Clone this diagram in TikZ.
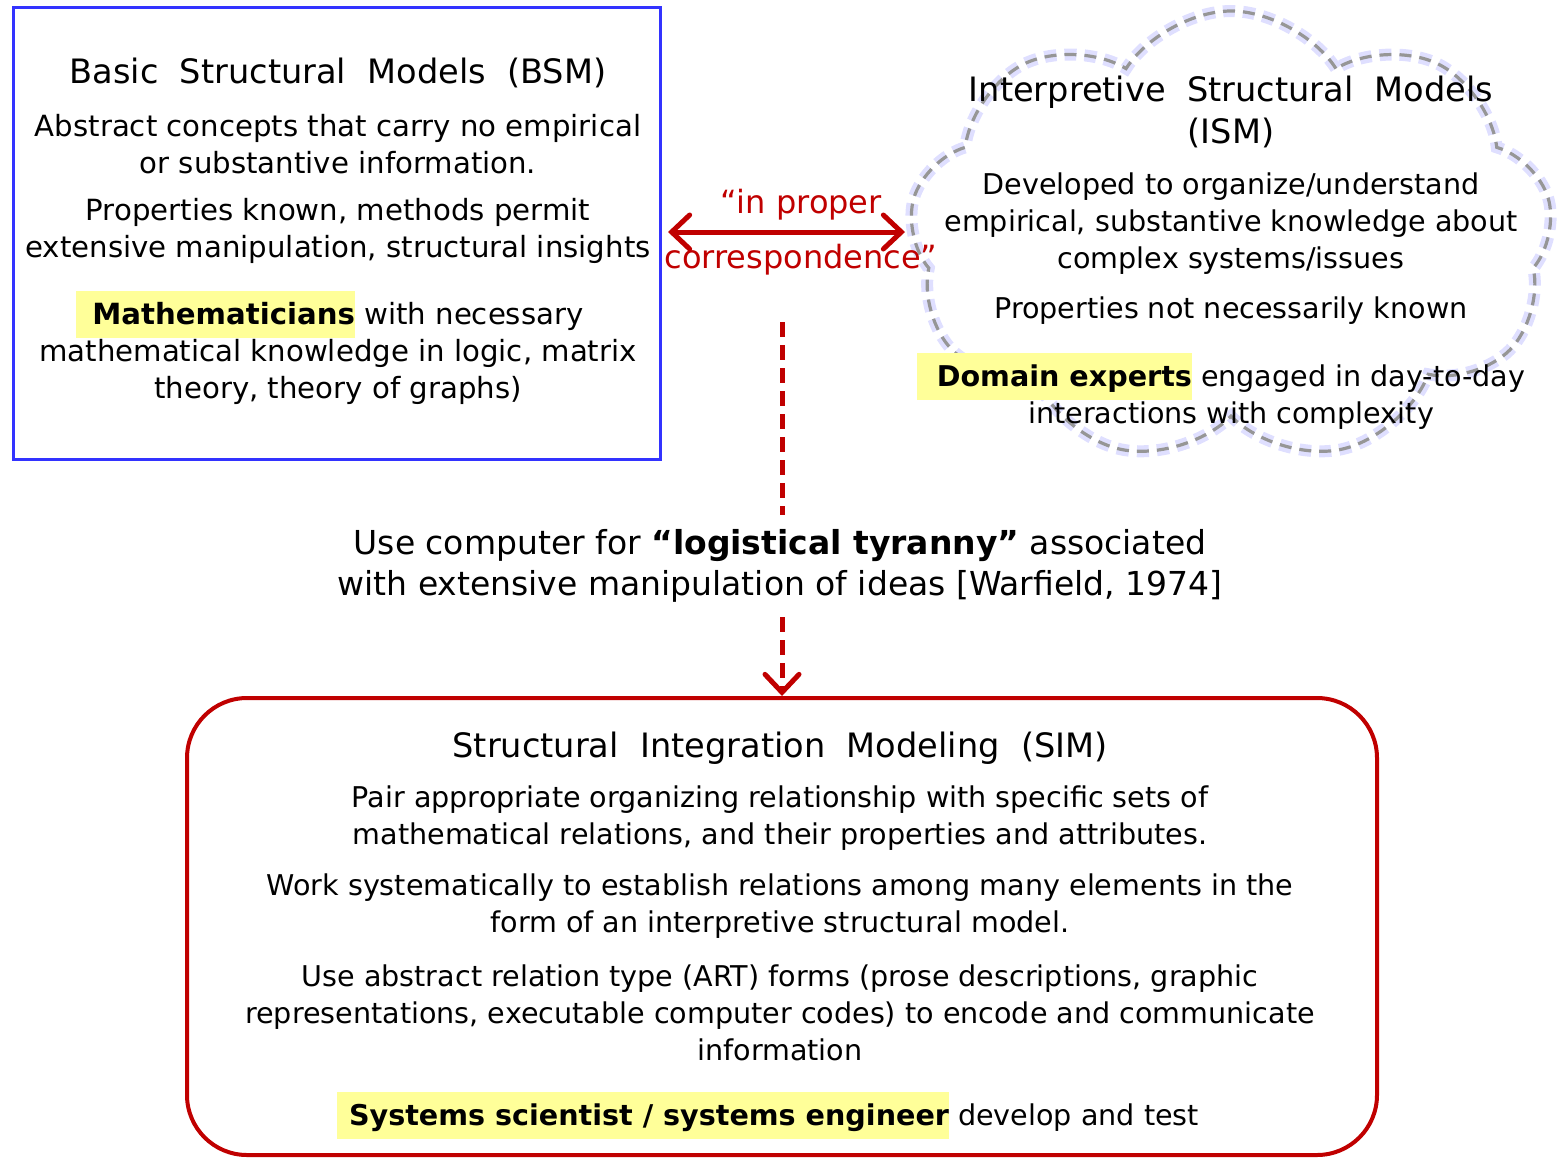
\documentclass[tikz,border=0pt]{standalone}
\usepackage{fontspec}
\setmainfont{DejaVu Sans}
\usetikzlibrary{shapes.symbols,arrows.meta}
\definecolor{bsmblue}{RGB}{51,51,255}
\definecolor{simred}{RGB}{192,0,0}
\definecolor{hly}{RGB}{255,255,153}
\definecolor{cloudgray}{RGB}{150,150,150}
\definecolor{glowblue}{RGB}{185,185,255}
\newcommand{\hlword}[2]{{\setlength{\fboxsep}{0pt}\hspace*{-#1}\colorbox{hly}{\hspace*{#1}\rule[-6.5pt]{0pt}{23.5pt}#2}}}
\tikzset{rtip/.tip={Straight Barb[length=9pt,width=17pt,line cap=round]}}
\begin{document}
\begin{tikzpicture}[x=0.5pt,y=-0.5pt,
  body/.style={font=\fontsize{14.3}{18.5}\selectfont, align=center, inner sep=0pt},
  bsmbody/.style={body, font=\fontsize{14.6}{18.5}\selectfont},
  ttl/.style={font=\fontsize{16.8}{21}\selectfont, align=center, inner sep=0pt},
  midtext/.style={font=\fontsize{16.5}{20.5}\selectfont, align=center, inner sep=0pt},
  redtext/.style={font=\fontsize{16}{27.5}\selectfont, align=center, inner sep=0pt, text=simred},
  bsmbox/.style={draw=bsmblue, line width=1.5pt, inner sep=0pt},
  simbox/.style={draw=simred, line width=2pt, rounded corners=30pt, inner sep=0pt},
  cloudshape/.style={cloud, cloud puffs=9, cloud puff arc=115, aspect=1.43, minimum width=322pt, minimum height=226pt, inner sep=0pt},
  redarrow/.style={draw=simred, line width=2.5pt}
]
\useasboundingbox (0,0) rectangle (1558,1157);

% --- BSM box
\node[bsmbox, minimum width=323.5pt, minimum height=226pt] (bsm) at (336.5,233) {};
\node[ttl] (bsmtitle) at (338,73) {Basic\ \ Structural\ \ Models\ \ (BSM)};
\node[bsmbody] (bsmp1) at (338,144) {Abstract concepts that carry no empirical\\or substantive information.};
\node[bsmbody] (bsmp2) at (338,231) {Properties known, methods permit\\extensive manipulation, structural insights};
\node[bsmbody] (bsmp3) at (338,348) {\hlword{8pt}{\textbf{Mathematicians}} with necessary\\mathematical knowledge in logic, matrix\\theory, theory of graphs)};

% --- ISM cloud
\node[cloudshape, draw=glowblue, line width=6pt, dash pattern=on 6pt off 4pt, opacity=0.45] (ismglow) at (1231,237) {};
\node[cloudshape, draw=cloudgray, line width=1.6pt, dash pattern=on 6pt off 4pt] (ism) at (1231,237) {};
\node[ttl] (ismtitle) at (1231,112) {Interpretive\ \ Structural\ \ Models\\(ISM)};
\node[body] (ismp1) at (1231,224) {Developed to organize/understand\\empirical, substantive knowledge about\\complex systems/issues};
\node[body] (ismp2) at (1231,311) {Properties not necessarily known};
\node[body] (ismp3) at (1231,391) {\hlword{10pt}{\textbf{Domain experts}} engaged in day-to-day\\interactions with complexity};

% --- correspondence arrow
\coordinate (la) at (668,232);
\coordinate (ra) at (905,232);
\draw[redarrow, rtip-rtip] (la) -- (ra);
\node[redtext] (corr) at (801,232) {``in proper\\correspondence''};

% --- middle text and dashed arrow
\node[midtext] (mid) at (780,566) {Use computer for \textbf{``logistical tyranny''} associated\\with extensive manipulation of ideas [Warfield, 1974]};
\coordinate (d1) at (782,322);
\coordinate (d2) at (782,515);
\coordinate (d3) at (782,617);

% --- SIM box
\node[simbox, minimum width=595pt, minimum height=228.5pt] (sim) at (782,926.5) {};
\draw[redarrow, dash pattern=on 7.5pt off 4pt] (d1) -- (d2);
\draw[redarrow, dash pattern=on 7.5pt off 4pt, -rtip] (d3) -- (sim.north);
\node[ttl] (simtitle) at (780,748) {Structural\ \ Integration\ \ Modeling\ \ (SIM)};
\node[body] (simp1) at (780,818.5) {Pair appropriate organizing relationship with specific sets of\\mathematical relations, and their properties and attributes.};
\node[body] (simp2) at (780,906.5) {Work systematically to establish relations among many elements in the\\form of an interpretive structural model.};
\node[body] (simp3) at (780,1013) {Use abstract relation type (ART) forms (prose descriptions, graphic\\representations, executable computer codes) to encode and communicate\\information};
\node[body] (simp4) at (774,1115) {\hlword{6pt}{\textbf{Systems scientist / systems engineer}} develop and test};
\end{tikzpicture}
\end{document}
